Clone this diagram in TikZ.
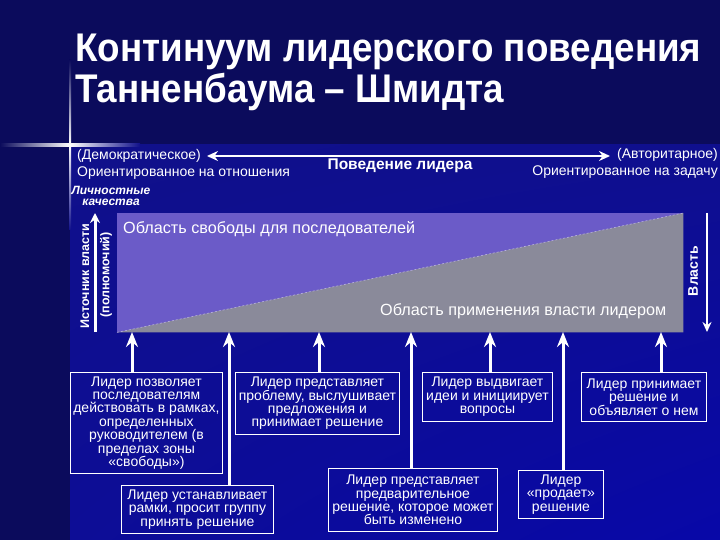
\documentclass[tikz,border=0pt]{standalone}
\usepackage{fontspec}
\setmainfont{Liberation Sans}
\usetikzlibrary{arrows.meta,shadings}
\definecolor{bgdark}{HTML}{0B0B5C}
\definecolor{bgmid}{HTML}{10108A}
\definecolor{bgbright}{HTML}{0808A8}
\definecolor{purplearea}{HTML}{6B5BC8}
\definecolor{grayarea}{HTML}{8A8A9A}
\definecolor{diagline}{HTML}{B8B0E0}
\tikzset{
  titletext/.style={text=white, inner sep=0pt, font=\fontsize{40}{44}\selectfont\bfseries},
  lbl/.style={text=white, inner sep=0pt, font=\fontsize{14}{16}\selectfont},
  arealbl/.style={text=white, inner sep=0pt, font=\fontsize{16.2}{18}\selectfont},
  sidelbl/.style={text=white, inner sep=0pt, rotate=90, font=\fontsize{12.5}{14}\selectfont\bfseries},
  stepbox/.style={draw=white, line width=0.9pt, text=white, align=center, inner sep=0pt,
                  font=\fontsize{14}{13.4}\selectfont, anchor=north west},
  uparr/.style={draw=white, line width=3pt, -{Stealth[length=15pt,width=12pt,inset=5pt]}},
  vertar/.style={draw=white, line width=3pt, -{Stealth[length=10pt,width=10pt]}},
  downar/.style={draw=white, line width=2pt, -{Stealth[length=10pt,width=9pt]}},
  topar/.style={draw=white, line width=2.8pt, {Stealth[length=11pt,width=10pt]}-{Stealth[length=11pt,width=10pt]}}
}
\begin{document}
\begin{tikzpicture}[x=1pt,y=-1pt]
\useasboundingbox (0,0) rectangle (720,540);
% background
\fill[bgdark] (0,0) rectangle (720,540);
\shade[upper left=bgmid, upper right=bgmid!85!bgbright, lower left=bgmid!60!bgbright, lower right=bgbright] (70,145) rectangle (720,540);
% flare
\shade[left color=bgdark, right color=bgmid, middle color=white] (0,144) rectangle (140,146.3);
\shade[top color=bgdark, bottom color=bgmid, middle color=white] (69.2,60) rectangle (71.2,230);
% title
\node[titletext, anchor=base west] (t1) at (75,62) {\scalebox{0.92}[1]{Континуум лидерского поведения}};
\node[titletext, anchor=base west] (t2) at (75,103) {\scalebox{0.92}[1]{Танненбаума – Шмидта}};
% top axis
\coordinate (la) at (207,156);
\coordinate (ra) at (610,156);
\draw[topar] (la) -- (ra);
\node[lbl, anchor=west] (dem) at (77,156) {(Демократическое)};
\node[lbl, anchor=west] (relo) at (77,173) {Ориентированное на отношения};
\node[lbl, anchor=east] (aut) at (718,155) {(Авторитарное)};
\node[lbl, anchor=east] (tasko) at (718,172) {Ориентированное на задачу};
\node[lbl, font=\fontsize{15.5}{17}\selectfont\bfseries] (beh) at (400,166) {Поведение лидера};
\node[text=white, inner sep=0pt, align=center, font=\fontsize{12}{11.5}\selectfont\bfseries\itshape] (pers) at (111,196) {Личностные\\качества};
% main area
\node[fill=purplearea, inner sep=0pt, minimum width=566pt, minimum height=119pt, anchor=north west] (area) at (117,213) {};
\fill[grayarea] (area.south west) -- (area.north east) -- (area.south east) -- cycle;
\draw[diagline, line width=0.6pt, dash pattern=on 2pt off 2pt] (area.south west) -- (area.north east);
\node[arealbl, anchor=west] (free) at (123,229) {Область свободы для последователей};
\node[arealbl, anchor=west] (power) at (380,311) {Область применения власти лидером};
% left axis
\coordinate (lb) at (95,332);
\coordinate (lt) at (95,213);
\draw[vertar] (lb) -- (lt);
\node[sidelbl] (src1) at (85,276) {Источник власти};
\node[sidelbl] (src2) at (106,275) {(полномочий)};
% right axis
\coordinate (rt) at (707,213);
\coordinate (rb) at (707,332);
\draw[downar] (rt) -- (rb);
\node[sidelbl, font=\fontsize{14}{16}\selectfont\bfseries] (vlast) at (693,271) {Власть};
% boxes
\node[stepbox, minimum width=152pt, minimum height=101pt] (b1) at (70,372) {Лидер позволяет\\последователям\\действовать в рамках,\\определенных\\руководителем (в\\пределах зоны\\«свободы»)};
\node[stepbox, minimum width=152pt, minimum height=48pt] (b2) at (121,485) {Лидер устанавливает\\рамки, просит группу\\принять решение};
\node[stepbox, minimum width=164pt, minimum height=62pt] (b3) at (235,372) {Лидер представляет\\проблему, выслушивает\\предложения и\\принимает решение};
\node[stepbox, minimum width=169pt, minimum height=63pt] (b4) at (328,468) {Лидер представляет\\предварительное\\решение, которое может\\быть изменено};
\node[stepbox, minimum width=130pt, minimum height=49pt] (b5) at (422,372) {Лидер выдвигает\\идеи и инициирует\\вопросы};
\node[stepbox, minimum width=85pt, minimum height=48pt] (b6) at (518,470) {Лидер\\«продает»\\решение};
\node[stepbox, minimum width=125pt, minimum height=49pt] (b7) at (581,372) {Лидер принимает\\решение и\\объявляет о нем};
% arrow targets on area bottom
\coordinate (a1) at (132,332);
\coordinate (a2) at (229,332);
\coordinate (a3) at (319,332);
\coordinate (a4) at (411,332);
\coordinate (a5) at (490,332);
\coordinate (a6) at (563,332);
\coordinate (a7) at (661,332);
\draw[uparr] (b1.north -| a1) -- (a1);
\draw[uparr] (b2.north -| a2) -- (a2);
\draw[uparr] (b3.north -| a3) -- (a3);
\draw[uparr] (b4.north -| a4) -- (a4);
\draw[uparr] (b5.north -| a5) -- (a5);
\draw[uparr] (b6.north -| a6) -- (a6);
\draw[uparr] (b7.north -| a7) -- (a7);
\end{tikzpicture}
\end{document}
